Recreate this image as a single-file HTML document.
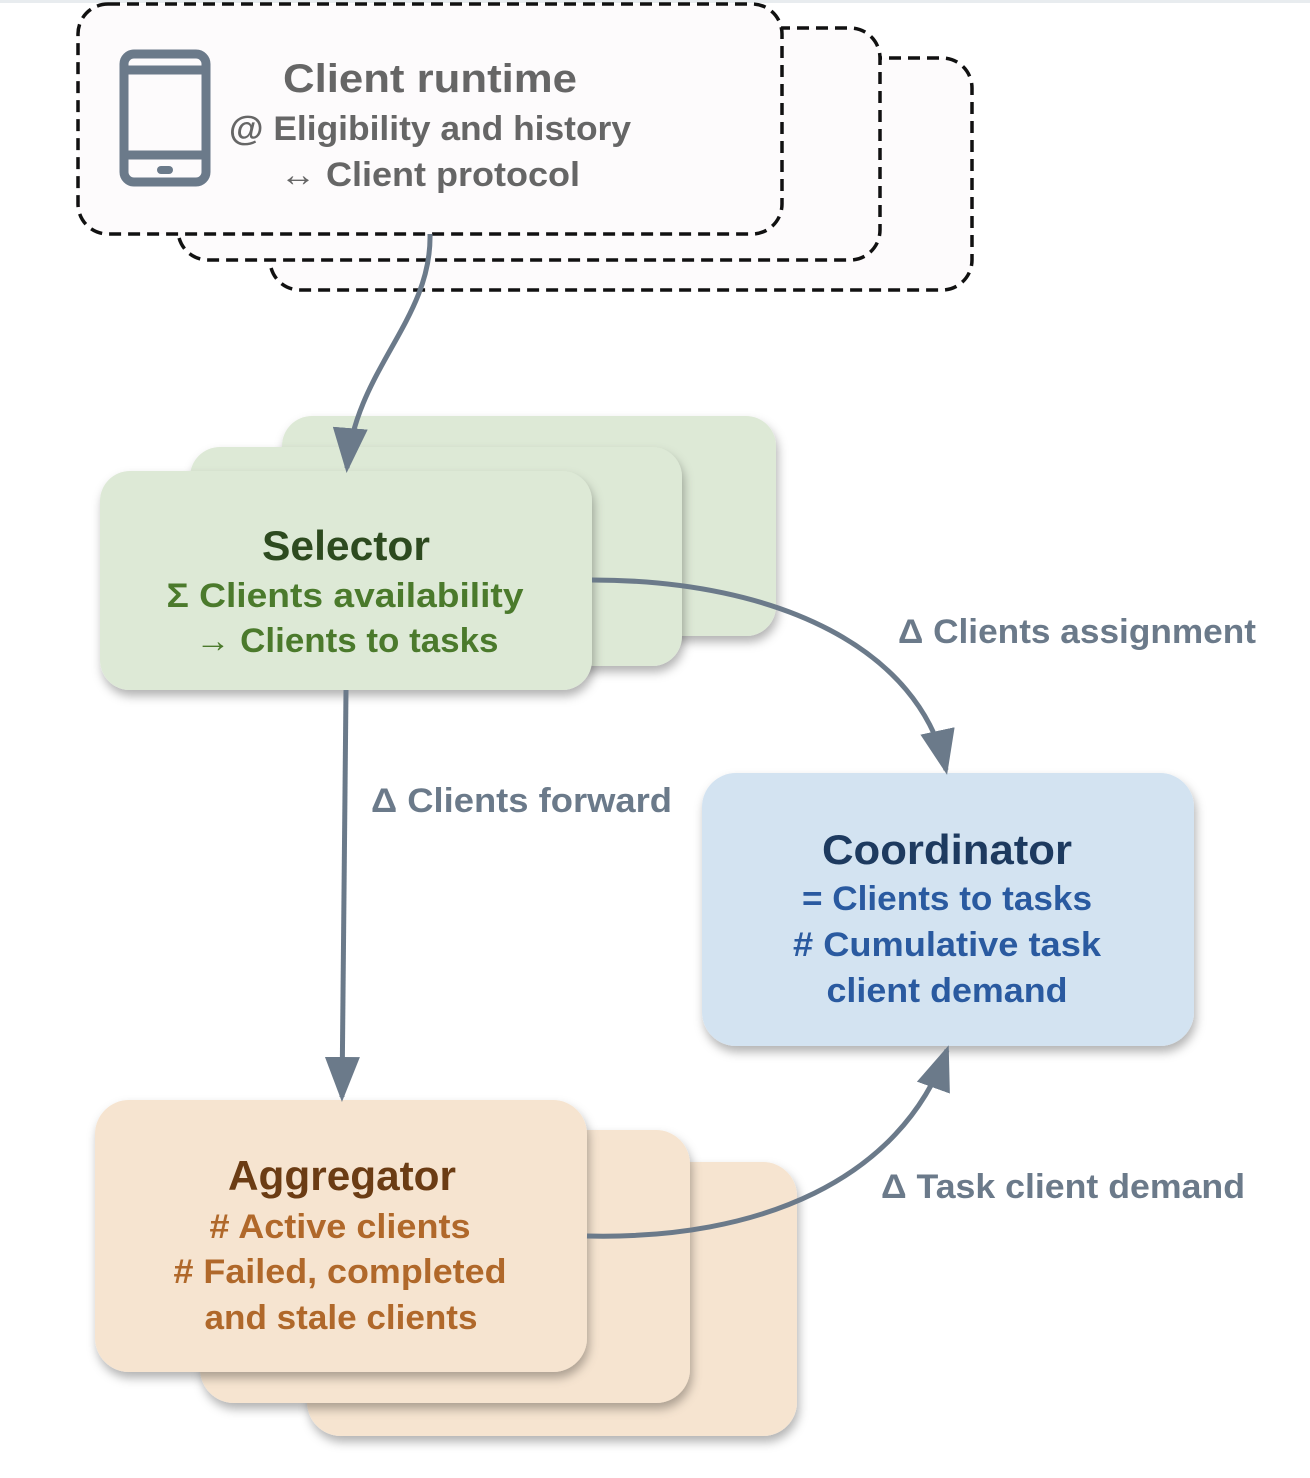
<!DOCTYPE html>
<html><head><meta charset="utf-8"><style>html,body{margin:0;padding:0;background:#fff}svg{display:block}text{font-family:"Liberation Sans",sans-serif;font-weight:bold}</style></head>
<body>
<svg width="1310" height="1478" viewBox="0 0 1310 1478" xmlns="http://www.w3.org/2000/svg">
<defs>
<filter id="sh" x="-10%" y="-10%" width="130%" height="130%"><feDropShadow dx="2" dy="6" stdDeviation="5" flood-color="#000" flood-opacity="0.3"/></filter>
<marker id="ah" markerWidth="9" markerHeight="7" refX="8" refY="3.5" orient="auto" markerUnits="strokeWidth"><path d="M0,0 L9,3.5 L0,7 z" fill="#6b7a8a"/></marker>
</defs>
<rect x="0" y="0" width="1310" height="3" fill="#e8ecef"/>
<g fill="#fdfbfc" stroke="#111" stroke-width="3.5" stroke-dasharray="12,7">
<rect x="270" y="58" width="702" height="232" rx="30"/>
<rect x="178" y="28" width="702" height="232" rx="30"/>
<rect x="78" y="4" width="704" height="230" rx="30"/>
</g>
<g stroke="#6b7a8a" fill="none" stroke-width="9">
<rect x="124" y="54" width="82" height="128" rx="10"/>
<line x1="124" y1="70" x2="206" y2="70"/>
<line x1="124" y1="155" x2="206" y2="155"/>
</g>
<rect x="157" y="166" width="16" height="8" rx="4" fill="#6b7a8a"/>
<g fill="#666" text-anchor="middle">
<text x="430" y="92" font-size="40" textLength="294" lengthAdjust="spacingAndGlyphs">Client runtime</text>
<text x="430" y="140" font-size="34" textLength="402" lengthAdjust="spacingAndGlyphs">@ Eligibility and history</text>
<text x="430" y="186" font-size="34" textLength="300" lengthAdjust="spacingAndGlyphs">↔ Client protocol</text>
</g>
<g fill="#dde9d6">
<rect x="282" y="416" width="494" height="220" rx="30" filter="url(#sh)"/>
<rect x="190" y="447" width="492" height="219" rx="30" filter="url(#sh)"/>
<rect x="100" y="471" width="492" height="219" rx="30" filter="url(#sh)"/>
</g>
<g text-anchor="middle">
<text x="346" y="560" font-size="42" fill="#2d4a1f" textLength="168" lengthAdjust="spacingAndGlyphs">Selector</text>
<text x="345" y="607" font-size="34" fill="#4b7a2c" textLength="357" lengthAdjust="spacingAndGlyphs">Σ Clients availability</text>
<text x="347" y="652" font-size="34" fill="#4b7a2c" textLength="303" lengthAdjust="spacingAndGlyphs">→ Clients to tasks</text>
</g>
<rect x="702" y="773" width="492" height="273" rx="34" fill="#d3e3f1" filter="url(#sh)"/>
<g text-anchor="middle">
<text x="947" y="864" font-size="42" fill="#1d3a5f" textLength="250" lengthAdjust="spacingAndGlyphs">Coordinator</text>
<text x="947" y="910" font-size="34" fill="#2a5aa0" textLength="290" lengthAdjust="spacingAndGlyphs">= Clients to tasks</text>
<text x="947" y="956" font-size="34" fill="#2a5aa0" textLength="308" lengthAdjust="spacingAndGlyphs"># Cumulative task</text>
<text x="947" y="1002" font-size="34" fill="#2a5aa0" textLength="241" lengthAdjust="spacingAndGlyphs">client demand</text>
</g>
<g fill="#f6e4d0">
<rect x="307" y="1162" width="490" height="274" rx="34" filter="url(#sh)"/>
<rect x="200" y="1130" width="490" height="273" rx="34" filter="url(#sh)"/>
<rect x="95" y="1100" width="492" height="272" rx="34" filter="url(#sh)"/>
</g>
<g text-anchor="middle">
<text x="342" y="1190" font-size="42" fill="#6b3c14" textLength="228" lengthAdjust="spacingAndGlyphs">Aggregator</text>
<text x="340" y="1238" font-size="34" fill="#b0682a" textLength="261" lengthAdjust="spacingAndGlyphs"># Active clients</text>
<text x="340" y="1283" font-size="34" fill="#b0682a" textLength="333" lengthAdjust="spacingAndGlyphs"># Failed, completed</text>
<text x="341" y="1329" font-size="34" fill="#b0682a" textLength="273" lengthAdjust="spacingAndGlyphs">and stale clients</text>
</g>
<g fill="none" stroke="#6b7a8a" stroke-width="5" marker-end="url(#ah)">
<path d="M430,234 C432,320 355,370 347,468"/>
<path d="M592,580 C780,580 920,650 946,770"/>
<path d="M346,690 L342,1097"/>
<path d="M587,1236 C760,1240 900,1180 947,1050"/>
</g>
<g fill="#6b7a8a" font-size="34">
<text x="898" y="643" textLength="358" lengthAdjust="spacingAndGlyphs">Δ Clients assignment</text>
<text x="371" y="812" textLength="301" lengthAdjust="spacingAndGlyphs">Δ Clients forward</text>
<text x="881" y="1198" textLength="364" lengthAdjust="spacingAndGlyphs">Δ Task client demand</text>
</g>
</svg>
</body></html>
